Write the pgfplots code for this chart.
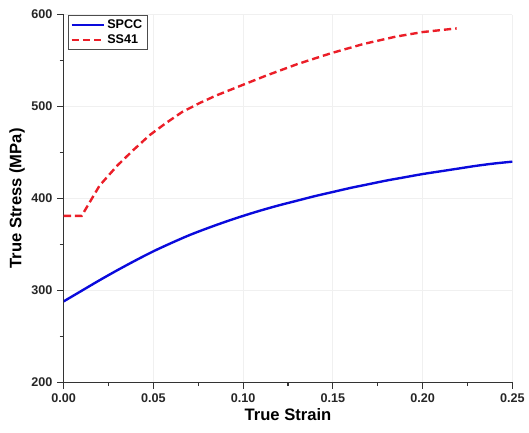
\documentclass[border=0pt]{standalone}
\usepackage{pgfplots}
\pgfplotsset{compat=1.18}
\usepackage{fontspec}
\setmainfont{Liberation Sans}
\definecolor{spcc}{RGB}{10,10,220}
\definecolor{ss41}{RGB}{235,30,40}
\begin{document}
\begin{tikzpicture}
\begin{axis}[
  width=338pt, height=277pt, scale only axis,
  xmin=0, xmax=0.25, ymin=200, ymax=600,
  xtick={0,0.05,0.1,0.15,0.2,0.25},
  ytick={200,300,400,500,600},
  minor x tick num=1, minor y tick num=1,
  axis x line*=bottom, axis y line*=left,
  axis line style={line width=1pt, black!80},
  tick style={line width=0.8pt, black!80},
  tick align=outside,
  major tick length=5pt, minor tick length=3pt,
  xticklabel style={/pgf/number format/fixed, /pgf/number format/zerofill, /pgf/number format/precision=2},
  /pgf/number format/assume math mode=true,
  ticklabel style={font=\bfseries\fontsize{9.5}{11}\selectfont, black!85},
  xlabel={True Strain}, ylabel={True Stress (MPa)},
  label style={font=\bfseries\fontsize{12.5}{14}\selectfont},
  xlabel style={yshift=2pt},
  ylabel style={yshift=-2pt},
  grid=major, grid style={gray!12, line width=0.6pt},
  legend style={at={(0.01,1)}, anchor=north west, font=\bfseries\fontsize{9.5}{11}\selectfont,
    draw=black!70, line width=0.6pt, inner sep=1.5pt, row sep=-1pt},
  legend cell align=left,
  legend image code/.code={\draw[#1, line width=1.5pt] (0cm,0cm) -- (0.85cm,0cm);},
]
\addplot[spcc, line width=1.8pt, smooth] coordinates {
  (0,288) (0.01,299.5) (0.02,311) (0.03,322) (0.04,332.5) (0.05,342.5) (0.06,351.5)
  (0.07,360) (0.08,367.5) (0.09,374.5) (0.10,381) (0.11,387) (0.12,392.5) (0.13,397.5)
  (0.14,402.5) (0.15,407) (0.16,411.5) (0.17,415.5) (0.18,419.5) (0.19,423) (0.20,426.5)
  (0.21,429.5) (0.22,432.5) (0.23,435.5) (0.24,438) (0.25,440)
};
\addlegendentry{SPCC}
\addplot[ss41, line width=1.8pt, dash pattern=on 5.5pt off 3pt] coordinates {
  (0,381) (0.010,381) (0.020,414) (0.030,436) (0.039,453) (0.048,469) (0.057,482)
  (0.066,494) (0.076,504) (0.085,512) (0.094,519) (0.103,526) (0.112,533)
  (0.130,546) (0.149,558) (0.167,568) (0.185,576) (0.200,581) (0.219,585)
};
\addlegendentry{SS41}
\coordinate (sw) at (rel axis cs:0,0);
\coordinate (ne) at (rel axis cs:1,1);
\end{axis}
\path ([xshift=-48pt,yshift=-38pt]sw) rectangle ([xshift=10.5pt,yshift=11pt]ne);
\end{tikzpicture}
\end{document}
